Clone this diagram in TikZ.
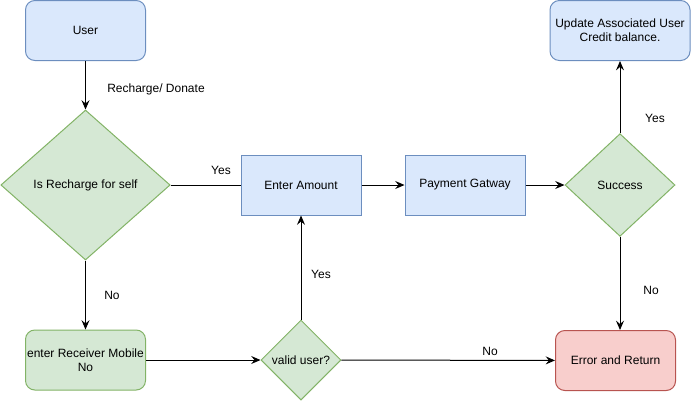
\documentclass[tikz,border=0pt]{standalone}
\usepackage{fontspec}
\setmainfont{Liberation Sans}
\usetikzlibrary{shapes.geometric,arrows.meta}
\definecolor{bfill}{HTML}{DAE8FC}\definecolor{bdraw}{HTML}{6C8EBF}
\definecolor{gfill}{HTML}{D5E8D4}\definecolor{gdraw}{HTML}{82B366}
\definecolor{rfill}{HTML}{F8CECC}\definecolor{rdraw}{HTML}{B85450}
\tikzset{
  px/.style={x=0.75pt,y=-0.75pt},
  base/.style={font=\fontsize{9pt}{10.5pt}\selectfont, align=center, inner sep=0pt, line width=0.75pt},
  bluebox/.style={base, draw=bdraw, fill=bfill, minimum width=90pt, minimum height=45pt},
  bluerbox/.style={bluebox, rounded corners=7pt},
  greenrbox/.style={base, draw=gdraw, fill=gfill, minimum width=90pt, minimum height=45pt, rounded corners=7pt},
  redrbox/.style={base, draw=rdraw, fill=rfill, minimum width=90pt, minimum height=45pt, rounded corners=7pt},
  decision/.style={base, diamond, draw=gdraw, fill=gfill},
  lbl/.style={font=\fontsize{9pt}{10.5pt}\selectfont, inner sep=0pt},
  conn/.style={line width=0.75pt, -{Stealth[length=7pt,width=6pt,inset=2.5pt]}},
  plain/.style={line width=0.75pt}
}
\begin{document}
\begin{tikzpicture}[px]
\useasboundingbox (0,0) rectangle (691,401);
\node[bluerbox] (user) at (85.5,30.5) {User};
\node[decision, minimum width=127pt, minimum height=112.5pt] (self) at (85.5,185) {Is Recharge for self};
\node[greenrbox] (recv) at (85.5,360) {enter Receiver Mobile\\No};
\node[bluebox] (amount) at (301,185) {Enter Amount};
\node[bluebox] (pay) at (465,185) {Payment Gatway};
\node[decision, minimum width=82.5pt, minimum height=77pt] (succ) at (620,185) {Success};
\node[bluerbox, minimum width=105pt] (upd) at (620,30.5) {Update Associated User\\Credit balance.};
\node[decision, minimum width=60pt, minimum height=60pt] (valid) at (301,360) {valid user?};
\node[redrbox] (err) at (615.5,360.5) {Error and Return};

\draw[conn] (user) -- (self);
\draw[plain] (self) -- (amount);
\draw[conn] (self) -- (recv);
\draw[conn] (recv) -- (valid);
\draw[conn] (valid) -- (amount);
\draw[conn] (valid) -- (err);
\draw[conn] (amount) -- (pay);
\draw[conn] (pay) -- (succ);
\draw[conn] (succ) -- (upd);
\draw[conn] (succ.south) -- (succ.south |- err.north);

\node[lbl] (l1) at (156,89) {Recharge/ Donate};
\node[lbl] (l2) at (221,170) {Yes};
\node[lbl] (l3) at (112,295) {No};
\node[lbl] (l4) at (321,274) {Yes};
\node[lbl] (l5) at (490,351) {No};
\node[lbl] (l6) at (655,118) {Yes};
\node[lbl] (l7) at (651,290) {No};
\end{tikzpicture}
\end{document}
